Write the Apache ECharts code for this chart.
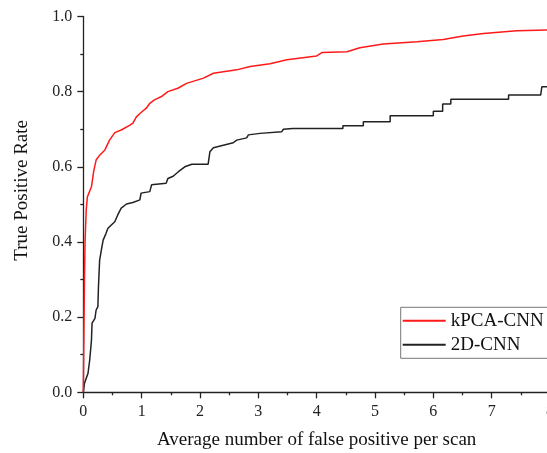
<!DOCTYPE html>
<html>
<head>
<meta charset="utf-8">
<script src="https://cdn.jsdelivr.net/npm/echarts@6/dist/echarts.min.js"></script>
<style>
  html, body { margin: 0; padding: 0; background: #fff; }
  #main { width: 547px; height: 453px; }
</style>
</head>
<body>
<div id="main"></div>
<script>
// 图例名称
var seriesNames = ['kPCA-CNN', '2D-CNN'];
// 坐标轴刻度
var xTicks = [0, 1, 2, 3, 4, 5, 6, 7, 8];
var yTicks = [0.0, 0.2, 0.4, 0.6, 0.8, 1.0];

// kPCA-CNN 曲线 [平均假阳性数, 真阳性率]
var kpcaData = [
    [0, 0], [0.01, 0.15], [0.02, 0.30], [0.03, 0.40], [0.05, 0.485], [0.07, 0.52],
    [0.14, 0.547], [0.18, 0.59], [0.22, 0.618], [0.28, 0.631], [0.37, 0.645],
    [0.45, 0.671], [0.54, 0.691], [0.65, 0.698], [0.80, 0.711], [0.85, 0.716],
    [0.91, 0.733], [0.97, 0.742], [1.08, 0.756], [1.14, 0.769], [1.22, 0.778],
    [1.34, 0.787], [1.45, 0.80], [1.62, 0.809], [1.77, 0.822], [2.06, 0.836],
    [2.23, 0.849], [2.63, 0.858], [2.86, 0.867], [3.20, 0.874], [3.49, 0.885],
    [4.00, 0.895], [4.09, 0.904], [4.52, 0.906], [4.74, 0.917], [5.14, 0.927],
    [5.72, 0.933], [6.17, 0.939], [6.51, 0.948], [6.86, 0.955], [7.43, 0.962],
    [7.95, 0.964], [8.0, 0.964]
];

// 2D-CNN 曲线（阶梯状）
var cnn2dData = [
    [0, 0], [0.02, 0.024], [0.08, 0.05], [0.11, 0.086], [0.14, 0.139], [0.15, 0.184],
    [0.20, 0.197], [0.22, 0.219], [0.25, 0.228], [0.26, 0.281], [0.28, 0.352],
    [0.31, 0.379], [0.34, 0.405], [0.39, 0.423], [0.42, 0.436], [0.48, 0.445],
    [0.54, 0.454], [0.59, 0.472], [0.65, 0.49], [0.74, 0.501], [0.85, 0.505],
    [0.97, 0.512], [0.99, 0.53], [1.14, 0.534], [1.17, 0.552], [1.42, 0.556],
    [1.45, 0.569], [1.54, 0.575], [1.63, 0.587], [1.74, 0.60], [1.86, 0.607],
    [2.14, 0.607], [2.17, 0.640], [2.23, 0.651], [2.57, 0.664], [2.63, 0.671],
    [2.80, 0.677], [2.83, 0.685], [3.03, 0.689], [3.40, 0.693], [3.43, 0.70],
    [3.59, 0.702], [4.45, 0.702], [4.45, 0.709], [4.80, 0.709], [4.80, 0.72],
    [5.26, 0.72], [5.26, 0.736], [6.0, 0.736], [6.0, 0.748], [6.16, 0.748],
    [6.16, 0.767], [6.30, 0.767], [6.30, 0.78], [7.29, 0.78], [7.29, 0.791],
    [7.84, 0.791], [7.86, 0.813], [8.0, 0.813]
];

var font = 'Liberation Serif, Times New Roman, serif';

var myChart = echarts.init(document.getElementById('main'));
myChart.setOption({
    backgroundColor: '#fff',
    animation: false,
    grid: {
        left: 83.3,
        right: -3,
        top: 16.5,
        bottom: 60.7,
        containLabel: false,
        outerBoundsMode: 'none'
    },
    legend: {
        left: 400.7,
        top: 307.3,
        orient: 'vertical',
        data: seriesNames,
        icon: 'rect',          // 只显示线段，不要圆点
        itemWidth: 43,
        itemHeight: 2,
        itemGap: 5,
        padding: [4, 4, 4, 2],
        borderColor: '#777',
        borderWidth: 1,
        textStyle: {
            fontFamily: font,
            fontSize: 19,
            color: '#111',
            lineHeight: 19
        }
    },
    xAxis: {
        type: 'value',
        min: xTicks[0],
        max: xTicks[xTicks.length - 1],
        interval: 1,
        name: 'Average number of false positive per scan',
        nameLocation: 'middle',
        nameGap: 38,
        nameTextStyle: { fontFamily: font, fontSize: 19, color: '#111' },
        axisLine: { lineStyle: { color: '#222', width: 1.3 } },
        axisTick: { length: 6, lineStyle: { color: '#222', width: 1.3 } },
        minorTick: { show: true, splitNumber: 2, length: 3, lineStyle: { color: '#222', width: 1.3 } },
        axisLabel: { fontFamily: font, fontSize: 16, color: '#222', margin: 11 },
        splitLine: { show: false }
    },
    yAxis: {
        type: 'value',
        min: yTicks[0],
        max: yTicks[yTicks.length - 1],
        interval: 0.2,
        name: 'True Positive Rate',
        nameLocation: 'middle',
        nameGap: 52,
        nameTextStyle: { fontFamily: font, fontSize: 19, color: '#111', padding: [0, 0, 0, 28] },
        axisLine: { show: true, lineStyle: { color: '#222', width: 1.3 } },
        axisTick: { show: true, length: 6, lineStyle: { color: '#222', width: 1.3 } },
        minorTick: { show: true, splitNumber: 2, length: 3, lineStyle: { color: '#222', width: 1.3 } },
        axisLabel: {
            fontFamily: font, fontSize: 16, color: '#222', margin: 11,
            formatter: function (v) { return v.toFixed(1); }
        },
        splitLine: { show: false }
    },
    series: [
        {
            name: seriesNames[0],
            type: 'line',
            data: kpcaData,
            symbol: 'none',
            lineStyle: { color: '#ff1a1a', width: 1.5 },
            itemStyle: { color: '#ff1a1a' },
            z: 3
        },
        {
            name: seriesNames[1],
            type: 'line',
            data: cnn2dData,
            symbol: 'none',
            lineStyle: { color: '#222', width: 1.5 },
            itemStyle: { color: '#222' },
            z: 2
        }
    ]
});
</script>
</body>
</html>
